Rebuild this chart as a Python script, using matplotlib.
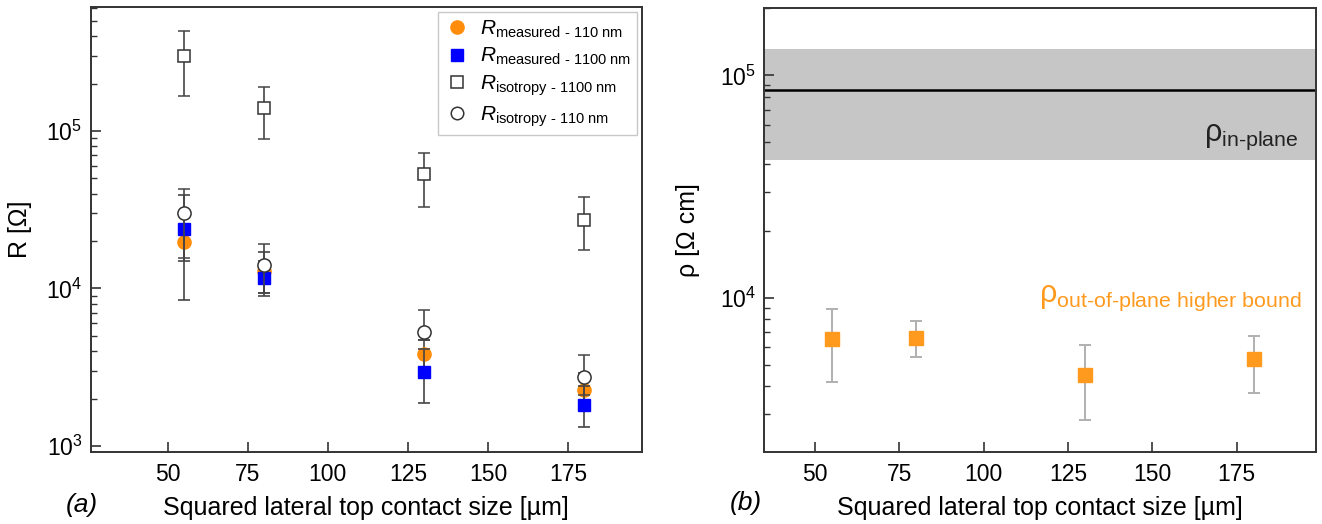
import numpy as np
import matplotlib
matplotlib.use("Agg")
import matplotlib.pyplot as plt
from matplotlib.lines import Line2D
from matplotlib.ticker import LogLocator, NullFormatter

plt.rcParams['font.family'] = ['Liberation Sans', 'DejaVu Sans']
plt.rcParams['mathtext.fontset'] = 'custom'
plt.rcParams['mathtext.rm'] = 'Liberation Sans'
plt.rcParams['mathtext.it'] = 'Liberation Sans:italic'
plt.rcParams['mathtext.bf'] = 'Liberation Sans:bold'

# --------------------------------------------
# Contact sizes (um)
# --------------------------------------------
size = np.array([55, 80, 130, 180])

# --------------------------------------------
# (a) resistances, Ohm  (value, lower bound, upper bound)
# --------------------------------------------
r_meas_110 = np.array([1.97e4, 1.29e4, 3.86e3, 2.26e3])
r_meas_110_lo = np.array([1.50e4, 9.4e3, 3.16e3, 1.70e3])
r_meas_110_hi = np.array([2.40e4, 1.70e4, 4.70e3, 2.90e3])

r_meas_1100 = np.array([2.38e4, 1.16e4, 2.97e3, 1.83e3])
r_meas_1100_lo = np.array([8.5e3, 8.9e3, 1.87e3, 1.32e3])
r_meas_1100_hi = np.array([3.90e4, 1.50e4, 4.10e3, 2.40e3])

r_iso_1100 = np.array([2.99e5, 1.41e5, 5.3e4, 2.74e4])
r_iso_1100_lo = np.array([1.67e5, 8.95e4, 3.3e4, 1.75e4])
r_iso_1100_hi = np.array([4.30e5, 1.91e5, 7.3e4, 3.8e4])

r_iso_110 = np.array([3.0e4, 1.40e4, 5.3e3, 2.76e3])
r_iso_110_lo = np.array([1.57e4, 9.4e3, 4.7e3, 2.1e3])
r_iso_110_hi = np.array([4.30e4, 1.91e4, 7.3e3, 3.77e3])

# --------------------------------------------
# (b) resistivities, Ohm cm
# --------------------------------------------
rho_out = np.array([6.5e3, 6.6e3, 4.48e3, 5.29e3])
rho_out_lo = np.array([4.19e3, 5.42e3, 2.83e3, 3.71e3])
rho_out_hi = np.array([8.87e3, 7.83e3, 6.1e3, 6.7e3])

rho_in = 8.63e4
rho_in_lo = 4.15e4
rho_in_hi = 1.32e5

x_ticks = [50, 75, 100, 125, 150, 175]

ORANGE = '#ff8c0a'
ORANGE_B = '#ff9a1e'
BLUE = '#0000ff'
EDGE = '#333333'


def yerr(v, lo, hi):
    return np.vstack([v - lo, hi - v])


def style_axes(ax):
    for side in ['top', 'right', 'left', 'bottom']:
        ax.spines[side].set_linewidth(1.4)
        ax.spines[side].set_color(EDGE)
    ax.tick_params(which='both', direction='in', top=False, right=False,
                   color=EDGE, labelsize=16.5)
    ax.tick_params(axis='x', pad=8)
    ax.tick_params(axis='y', pad=6)
    ax.tick_params(which='major', length=7, width=1.2)
    ax.tick_params(which='minor', length=4, width=1.0)
    ax.yaxis.set_major_locator(LogLocator(base=10))
    ax.yaxis.set_minor_locator(LogLocator(base=10, subs=np.arange(2, 10)))
    ax.yaxis.set_minor_formatter(NullFormatter())
    ax.set_xticks(x_ticks)
    ax.set_xlabel('Squared lateral top contact size [µm]', fontsize=18, labelpad=7)


fig = plt.figure(figsize=(13.22, 5.24), dpi=100)
ax1 = fig.add_axes([0.0686, 0.138, 0.4168, 0.848])
ax2 = fig.add_axes([0.578, 0.138, 0.4172, 0.846])

# ---------------- (a) ----------------
eb = dict(ecolor='#454545', elinewidth=1.2, capsize=4.5, capthick=1.2, linestyle='none')
ax1.errorbar(size, r_meas_110, yerr=yerr(r_meas_110, r_meas_110_lo, r_meas_110_hi),
             marker='o', ms=9.5, mfc=ORANGE, mec=ORANGE, zorder=3, **eb)
ax1.errorbar(size, r_meas_1100, yerr=yerr(r_meas_1100, r_meas_1100_lo, r_meas_1100_hi),
             marker='s', ms=8.5, mfc=BLUE, mec=BLUE, zorder=4, **eb)
ax1.errorbar(size, r_iso_1100, yerr=yerr(r_iso_1100, r_iso_1100_lo, r_iso_1100_hi),
             marker='s', ms=8.5, mfc='white', mec=EDGE, mew=1.1, zorder=5, **eb)
ax1.errorbar(size, r_iso_110, yerr=yerr(r_iso_110, r_iso_110_lo, r_iso_110_hi),
             marker='o', ms=9.5, mfc='white', mec=EDGE, mew=1.1, zorder=5, **eb)

ax1.set_yscale('log')
ax1.set_xlim(26, 198)
ax1.set_ylim(920, 6.1e5)
style_axes(ax1)
ax1.set_ylabel('R [Ω]', fontsize=18, labelpad=10)

# legend markers without the error bars
handles = [
    Line2D([], [], ls='none', marker='o', ms=9.5, mfc=ORANGE, mec=ORANGE),
    Line2D([], [], ls='none', marker='s', ms=8.5, mfc=BLUE, mec=BLUE),
    Line2D([], [], ls='none', marker='s', ms=8, mfc='white', mec=EDGE, mew=1.1),
    Line2D([], [], ls='none', marker='o', ms=9, mfc='white', mec=EDGE, mew=1.1),
]
labels = [r'$R_{\text{measured - 110 nm}}$',
          r'$R_{\text{measured - 1100 nm}}$',
          r'$R_{\text{isotropy - 1100 nm}}$',
          r'$R_{\text{isotropy - 110 nm}}$']
leg = ax1.legend(handles, labels, loc='upper right', bbox_to_anchor=(0.9915, 0.9894),
                 fontsize=15, frameon=True, fancybox=False, edgecolor='#bbbbbb',
                 labelspacing=0.3, handletextpad=0.5, borderpad=0.3,
                 handlelength=1.2, borderaxespad=0)
leg.get_frame().set_linewidth(1.0)

fig.text(0.062, 0.036, '(a)', fontsize=19, style='italic', ha='center', va='center')

# ---------------- (b) ----------------
ax2.axhspan(rho_in_lo, rho_in_hi, color='#c6c6c6', lw=0, zorder=0)
ax2.axhline(rho_in, color='black', lw=1.8, zorder=1)
ax2.errorbar(size, rho_out, yerr=yerr(rho_out, rho_out_lo, rho_out_hi),
             marker='s', ms=9.5, mfc=ORANGE_B, mec=ORANGE_B, ecolor='#b0b0b0',
             elinewidth=1.4, capsize=4.5, capthick=1.4, linestyle='none', zorder=3)

ax2.set_yscale('log')
ax2.set_xlim(35, 198.4)
ax2.set_ylim(2.03e3, 2.0e5)
style_axes(ax2)
ax2.set_ylabel('ρ [Ω cm]', fontsize=18, labelpad=14)

ax2.text(0.97, 5.3e4, r'ρ$_{\text{in-plane}}$', transform=ax2.get_yaxis_transform(),
         fontsize=22, ha='right', va='center', color='#222222')
ax2.text(0.975, 1.0e4, r'ρ$_{\text{out-of-plane higher bound}}$',
         transform=ax2.get_yaxis_transform(), fontsize=22, ha='right', va='center',
         color=ORANGE_B)

fig.text(0.564, 0.040, '(b)', fontsize=19, style='italic', ha='center', va='center')

fig.savefig('out.png', dpi=100)
